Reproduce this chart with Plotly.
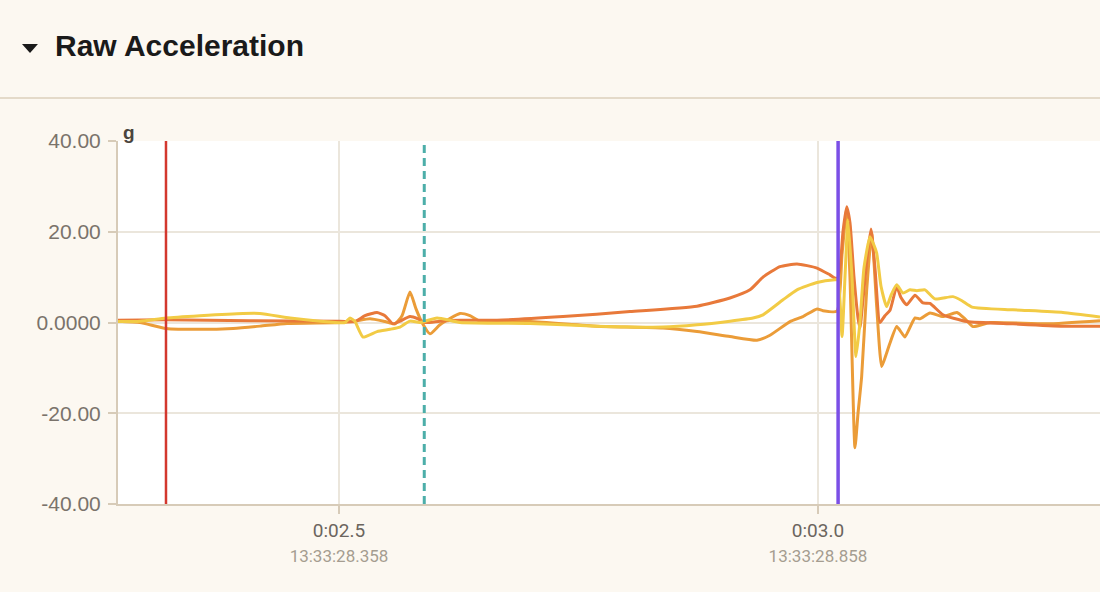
import plotly.graph_objects as go

# time in seconds (axis shows 0:02.5 ... 0:03.0), acceleration in g
t_a = [2.2693, 2.3194, 2.4071, 2.501, 2.5167, 2.5271, 2.5397, 2.548, 2.5564, 2.5637,
       2.5741, 2.5825, 2.5898, 2.6054, 2.6263, 2.6649, 2.7338, 2.8038, 2.8737, 2.9081,
       2.929, 2.9426, 2.9603, 2.9781, 2.999, 3.0125, 3.0198, 3.023, 3.0261, 3.030,
       3.0334, 3.0376, 3.0418, 3.0438, 3.047, 3.0511, 3.0553, 3.0595, 3.0647, 3.0699,
       3.0752, 3.0822, 3.0866, 3.0926, 3.1013, 3.1096, 3.1169, 3.1305, 3.1555, 3.2035,
       3.2557, 3.2944]
acc_a = [0.5, 0.6, 0.4, 0.3, 0.2, 1.5, 2.2, 1.5, -0.3, 0.3,
         1.3, 0.8, 0.0, 0.3, 0.5, 0.5, 1.3, 2.4, 3.6, 5.4,
         7.2, 10.0, 12.3, 12.9, 12.0, 10.5, 9.6, 12.0, 20.0, 25.5,
         22.0, 10.0, 1.0, -1.2, 5.0, 14.0, 20.6, 12.0, 0.0, 1.5,
         2.7, 7.9, 5.5, 3.9, 6.0, 4.3, 4.2, 1.7, 0.2, -0.3,
         -0.8, -0.8]

t_b = [2.2693, 2.2923, 2.3194, 2.3549, 2.3894, 2.4175, 2.4457, 2.501, 2.5167, 2.5324,
       2.548, 2.5585, 2.5658, 2.5741, 2.5804, 2.5866, 2.595, 2.6054, 2.6263, 2.6367,
       2.6472, 2.6994, 2.7693, 2.8382, 2.8737, 2.9081, 2.9363, 2.9499, 2.9708, 2.9843,
       2.999, 3.0052, 3.0198, 3.0251, 3.030, 3.0334, 3.0386, 3.0418, 3.0456, 3.0508,
       3.0561, 3.0613, 3.0665, 3.0717, 3.0752, 3.0822, 3.0874, 3.0908, 3.1013, 3.1065,
       3.1169, 3.1305, 3.1451, 3.1534, 3.1618, 3.1795, 3.239, 3.2944]
acc_b = [0.3, 0.0, -1.3, -1.5, -1.3, -0.8, -0.2, 0.0, 0.3, 0.8,
         0.2, -0.3, 1.5, 6.7, 3.0, 0.0, -2.5, -0.5, 2.0, 1.5,
         0.3, 0.2, -0.8, -1.2, -2.0, -3.1, -3.9, -2.8, 0.2, 1.3,
         3.0, 2.6, 2.5, 15.0, 25.0, 10.0, -27.6, -20.0, -11.9, 7.0,
         19.7, 3.5, -9.7, -6.7, -4.5, -0.9, -2.3, -3.2, 1.0, 0.8,
         2.1, 1.3, 2.2, 0.8, -0.9, 0.0, -0.3, 0.4]

t_c = [2.2693, 2.2923, 2.3194, 2.3549, 2.3998, 2.4175, 2.4489, 2.4802, 2.5063, 2.5115,
       2.5167, 2.5251, 2.5397, 2.5532, 2.5637, 2.5741, 2.5846, 2.6023, 2.6263, 2.6994,
       2.7693, 2.8382, 2.8737, 2.9081, 2.9322, 2.9426, 2.9635, 2.9781, 2.999, 3.0177,
       3.0209, 3.0251, 3.0282, 3.0313, 3.0355, 3.0397, 3.0438, 3.048, 3.0543, 3.0585,
       3.0613, 3.0658, 3.0717, 3.0762, 3.0822, 3.0887, 3.096, 3.1033, 3.1117, 3.1221,
       3.1409, 3.1503, 3.1608, 3.2035, 3.2557, 3.2944]
acc_c = [0.2, 0.3, 1.0, 1.5, 2.0, 2.0, 1.0, 0.3, 0.0, 1.0,
         0.2, -3.2, -2.0, -1.5, -1.0, 0.3, 0.0, 1.0, 0.0, -0.2,
         -0.8, -1.0, -0.5, 0.3, 1.0, 1.7, 5.0, 7.2, 8.8, 9.4,
         9.4, -3.1, 10.0, 22.6, 10.0, -7.5, 0.0, 12.0, 18.9, 17.0,
         15.3, 8.0, 3.5, 6.0, 8.3, 6.5, 7.2, 7.0, 7.2, 5.2,
         5.7, 4.8, 3.4, 2.8, 2.2, 1.2]

x_ticks = [2.5, 3.0]
x_main = ["0:02.5", "0:03.0"]
x_clock = ["13:33:28.358", "13:33:28.858"]
y_ticks = [-40, -20, 0, 20, 40]
y_labels = ["-40.00", "-20.00", "0.0000", "20.00", "40.00"]

marker_red = 2.3194
marker_teal = 2.589
marker_purple = 3.021

bg = "#fcf8f1"
tan = "#d7cbb8"
grid = "#ebe6dc"

fig = go.Figure()

fig.add_trace(go.Scatter(x=t_b, y=acc_b, mode="lines", name="b",
                         line=dict(color="#eb9c38", width=3, shape="spline", smoothing=0.5)))
fig.add_trace(go.Scatter(x=t_a, y=acc_a, mode="lines", name="a",
                         line=dict(color="#e8793a", width=3, shape="spline", smoothing=0.5)))
fig.add_trace(go.Scatter(x=t_c, y=acc_c, mode="lines", name="c",
                         line=dict(color="#f2cb45", width=3, shape="spline", smoothing=0.5)))

fig.add_vline(x=marker_red, line=dict(color="#d3382e", width=2.5))
fig.add_vline(x=marker_teal, line=dict(color="#4caea9", width=3, dash="8px,5px"))
fig.add_vline(x=marker_purple, line=dict(color="#7b4fe6", width=3.5))

# header: collapse caret, title and separator
fig.add_shape(type="path", xref="paper", yref="paper",
              path="M -0.0978 1.2672 L -0.0815 1.2672 L -0.0896 1.2424 Z",
              fillcolor="#1a1a1a", line=dict(width=0))
fig.add_annotation(x=-0.0665, y=1.262, xref="paper", yref="paper", text="<b>Raw Acceleration</b>",
                   showarrow=False, xanchor="left", yanchor="middle",
                   font=dict(size=30, color="#1a1a1a", family="Liberation Sans"))
fig.add_shape(type="line", xref="paper", yref="paper", x0=-0.125, x1=1.0, y0=1.1185, y1=1.1185,
              line=dict(color="#e4dac9", width=2))
fig.add_annotation(x=0.003, y=1.0, xref="paper", yref="paper", text="<b>g</b>",
                   showarrow=False, xanchor="left", yanchor="bottom", yshift=-4,
                   font=dict(size=19, color="#4a443d", family="Liberation Sans"))

fig.update_xaxes(range=[2.2693, 3.2944], tickvals=x_ticks,
                 ticktext=[m + "<br><span style='font-size:17px;color:#a59d90'>" + c + "</span>"
                           for m, c in zip(x_main, x_clock)],
                 showgrid=True, gridcolor=grid, gridwidth=2,
                 showline=True, linecolor=tan, linewidth=2,
                 ticks="outside", ticklen=8, tickcolor=tan, tickwidth=2,
                 tickfont=dict(size=19, color="#6b655e", family="Roboto"),
                 zeroline=False, fixedrange=True)
fig.update_yaxes(range=[-40, 40], tickvals=y_ticks, ticktext=y_labels,
                 showgrid=True, gridcolor=grid, gridwidth=2,
                 showline=True, linecolor=tan, linewidth=2,
                 ticks="outside", ticklen=8, tickcolor=tan, tickwidth=2,
                 tickfont=dict(size=21, color="#7a736b", family="Liberation Sans"),
                 ticklabelstandoff=3, zeroline=False, fixedrange=True)

fig.update_layout(
    width=1100, height=592,
    margin=dict(l=118, r=0, t=141, b=88),
    paper_bgcolor=bg,
    plot_bgcolor="#ffffff",
    showlegend=False,
)

fig.write_html("out.html", config={"displayModeBar": False},
               post_script="document.body.style.margin='0';")
